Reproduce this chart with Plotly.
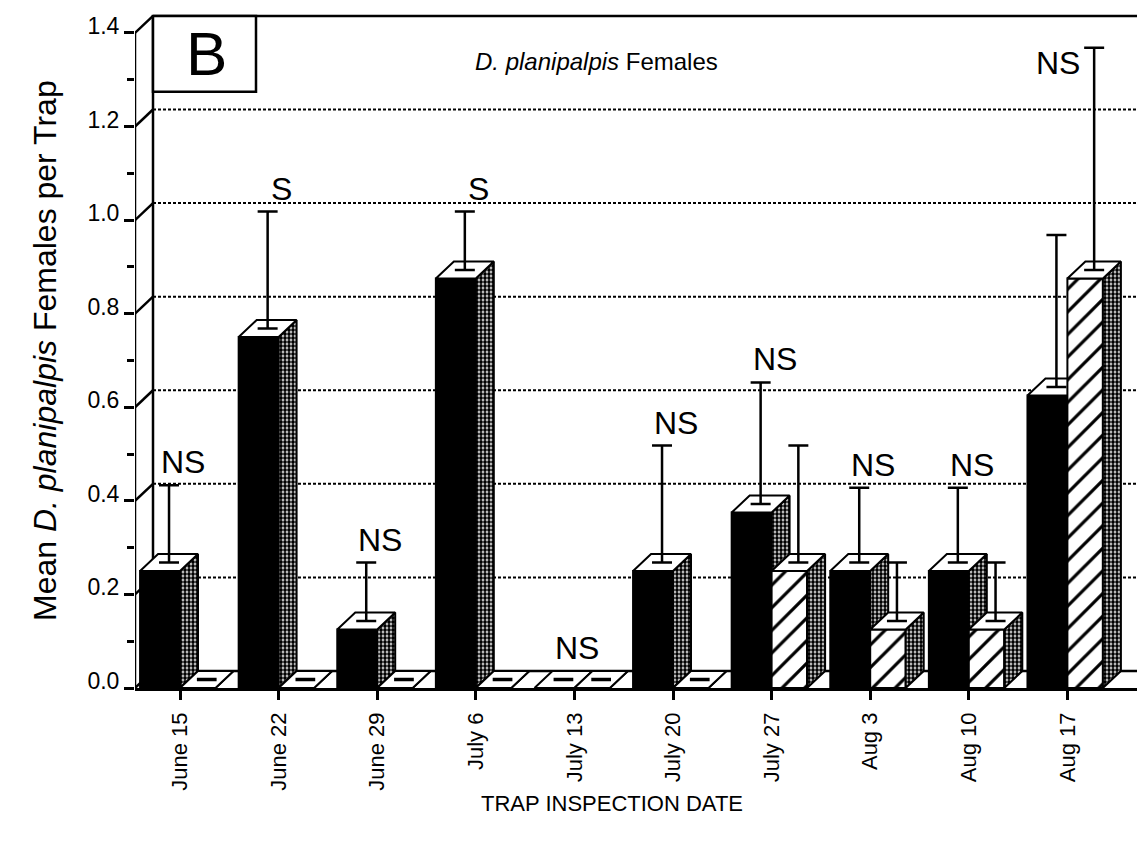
import plotly.graph_objects as go

# ---------------- data ----------------
dates = ["June 15", "June 22", "June 29", "July 6", "July 13",
         "July 20", "July 27", "Aug 3", "Aug 10", "Aug 17"]
black_mean = [0.25, 0.75, 0.125, 0.875, 0.0, 0.25, 0.375, 0.25, 0.25, 0.625]
black_se = [0.165, 0.25, 0.125, 0.125, 0.0, 0.25, 0.26, 0.16, 0.16, 0.325]
hatched_mean = [0.0, 0.0, 0.0, 0.0, 0.0, 0.0, 0.25, 0.125, 0.125, 0.875]
hatched_se = [0.0, 0.0, 0.0, 0.0, 0.0, 0.0, 0.25, 0.125, 0.125, 0.475]
sig_labels = ["NS", "S", "NS", "S", "NS", "NS", "NS", "NS", "NS", "NS"]
y_tick_vals = [0.0, 0.2, 0.4, 0.6, 0.8, 1.0, 1.2, 1.4]
y_tick_text = ["0.0", "0.2", "0.4", "0.6", "0.8", "1.0", "1.2", "1.4"]
y_minor_vals = [0.1, 0.3, 0.5, 0.7, 0.9, 1.1, 1.3]
y_max = 1.4

# ---------------- geometry ----------------
W, H = 1137, 842
ML, MB = 135, 154
PX_CAT = 98.6            # px per category
PX_UNIT = 467.9          # px per y unit
DX = 18 / PX_CAT         # depth offset (x units)
DY = 17 / PX_UNIT        # depth offset (y units)
WB = 0.405               # black bar width
WH = 0.36                # hatched bar width
X0 = (ML - (ML + 45)) / PX_CAT
X1 = X0 + (W - ML) / PX_CAT
Y1 = (H - MB) / PX_UNIT

FONT = "Liberation Sans, Arial, Helvetica, sans-serif"


def poly_xy(polys):
    xs, ys = [], []
    for pts in polys:
        for (x, y) in pts:
            xs.append(x)
            ys.append(y)
        xs.append(pts[0][0])
        ys.append(pts[0][1])
        xs.append(None)
        ys.append(None)
    return xs, ys


def faces(left, width, vals):
    front, side, top = [], [], []
    for i, v in enumerate(vals):
        l = i + left
        r = l + width
        front.append([(l, 0), (r, 0), (r, v), (l, v)])
        side.append([(r, 0), (r + DX, DY), (r + DX, v + DY), (r, v)])
        top.append([(l, v), (r, v), (r + DX, v + DY), (l + DX, v + DY)])
    return front, side, top


def seg_xy(segs):
    xs, ys = [], []
    for (a, b) in segs:
        xs += [a[0], b[0], None]
        ys += [a[1], b[1], None]
    return xs, ys


fig = go.Figure()

# ---------------- back wall / grid ----------------
grid_vals = [v for v in y_tick_vals if 0 < v < y_max]
gx, gy = seg_xy([((X0 + DX, v + DY), (X1, v + DY)) for v in grid_vals])
fig.add_trace(go.Scatter(x=gx, y=gy, mode="lines",
                         line=dict(color="black", width=2, dash="3px,2px"),
                         hoverinfo="skip", showlegend=False))
wall = [((X0 + DX, DY), (X0 + DX, y_max + DY)),
        ((X0 + DX, y_max + DY), (X1, y_max + DY)),
        ((X0 + DX, DY), (X1, DY)),
        ((X0, 0), (X0, y_max))]
wall += [((X0, v), (X0 + DX, v + DY)) for v in y_tick_vals]
wx, wy = seg_xy(wall)
fig.add_trace(go.Scatter(x=wx, y=wy, mode="lines",
                         line=dict(color="black", width=2.5),
                         hoverinfo="skip", showlegend=False))

# ---------------- bars (front / side / top) ----------------
stipple = dict(shape=".", fgcolor="black", bgcolor="white", size=4,
               solidity=0.7, fgopacity=1)
hatch = dict(shape="/", fgcolor="black", bgcolor="white", size=16,
             solidity=0.2, fgopacity=1)
edge = dict(color="black", width=2)

bf, bs, bt = faces(-WB, WB, black_mean)
hf, hs, ht = faces(0, WH, hatched_mean)

for polys, kw in [(bf, dict(fillcolor="black")),
                  (bs, dict(fillcolor="white", fillpattern=stipple)),
                  (bt, dict(fillcolor="white")),
                  (hf, dict(fillcolor="white", fillpattern=hatch)),
                  (hs, dict(fillcolor="white", fillpattern=stipple)),
                  (ht, dict(fillcolor="white"))]:
    px_, py_ = poly_xy(polys)
    fig.add_trace(go.Scatter(x=px_, y=py_, mode="lines", fill="toself",
                             line=edge, hoverinfo="skip", showlegend=False, **kw))

# zero-value marks on flat slabs
dashes = []
for i in range(len(dates)):
    for left, width, v in [(-WB, WB, black_mean[i]), (0, WH, hatched_mean[i])]:
        if v == 0:
            c = i + left + width / 2 + DX / 2
            dashes.append(((c - 0.1, DY / 2), (c + 0.1, DY / 2)))
dx_, dy_ = seg_xy(dashes)
fig.add_trace(go.Scatter(x=dx_, y=dy_, mode="lines",
                         line=dict(color="black", width=3.5),
                         hoverinfo="skip", showlegend=False))

# ---------------- error bars (upper only) ----------------
for left, width, means, ses in [(-WB, WB, black_mean, black_se),
                                (0, WH, hatched_mean, hatched_se)]:
    ex, ey, ee = [], [], []
    for i, (m, s) in enumerate(zip(means, ses)):
        if s > 0:
            ex.append(i + left + width / 2 + DX / 2)
            ey.append(m + DY / 2)
            ee.append(s)
    fig.add_trace(go.Scatter(
        x=ex, y=ey, mode="markers", marker=dict(size=1, color="black"),
        error_y=dict(type="data", array=ee, arrayminus=[0] * len(ee),
                     symmetric=False, color="black", thickness=2.5, width=10),
        hoverinfo="skip", showlegend=False))

# ---------------- significance labels ----------------
annotations = []
for i, lab in enumerate(sig_labels):
    tops = [DY]
    if black_se[i] > 0:
        tops.append(black_mean[i] + DY / 2 + black_se[i])
    if hatched_se[i] > 0:
        tops.append(hatched_mean[i] + DY / 2 + hatched_se[i])
    top = max(tops)
    if top + 0.06 > y_max:
        # no room above: put the label beside the highest stem
        stem_x = i + WH / 2 + DX / 2
        annotations.append(dict(x=stem_x, y=top, xref="x", yref="y", text=lab,
                                showarrow=False, xanchor="right", yanchor="middle",
                                xshift=-12, yshift=-15,
                                font=dict(family=FONT, size=32, color="black")))
    else:
        annotations.append(dict(x=i + 0.03, y=top, xref="x", yref="y", text=lab,
                                showarrow=False, xanchor="center", yanchor="middle",
                                yshift=23,
                                font=dict(family=FONT, size=32, color="black")))

# panel letter
annotations.append(dict(x=0.071, y=0.922, xref="paper", yref="paper", text="B",
                        showarrow=False, xanchor="center", yanchor="middle",
                        font=dict(family=FONT, size=62, color="black")))
# title
annotations.append(dict(x=0.461, y=0.91, xref="paper", yref="paper",
                        text="<i>D. planipalpis</i> Females", showarrow=False,
                        xanchor="center", yanchor="middle",
                        font=dict(family=FONT, size=24, color="black")))
# y title
annotations.append(dict(x=-0.09, y=0.491, xref="paper", yref="paper",
                        text="Mean <i>D. planipalpis</i> Females per Trap",
                        showarrow=False, textangle=-90,
                        xanchor="center", yanchor="middle",
                        font=dict(family=FONT, size=32, color="black")))
# x title
annotations.append(dict(x=0.476, y=-0.168, xref="paper", yref="paper",
                        text="TRAP INSPECTION DATE", showarrow=False,
                        xanchor="center", yanchor="middle",
                        font=dict(family=FONT, size=22, color="black")))

shapes = [dict(type="rect", xref="x", yref="y",
               x0=X0 + DX, x1=(256 - (ML + 45)) / PX_CAT,
               y0=(H - MB - 91.7) / PX_UNIT, y1=y_max + DY,
               line=dict(color="black", width=2.5), fillcolor="white", layer="above")]

fig.update_layout(
    width=W, height=H,
    margin=dict(l=ML, r=0, t=0, b=MB, pad=0),
    paper_bgcolor="white", plot_bgcolor="white",
    showlegend=False,
    annotations=annotations,
    shapes=shapes,
    xaxis=dict(range=[X0, X1], tickmode="array", tickvals=list(range(len(dates))),
               ticktext=dates, tickangle=-90, ticks="outside", ticklen=9,
               tickwidth=2.5, tickcolor="black", showline=True, linecolor="black",
               linewidth=2.5, showgrid=False, zeroline=False,
               ticklabelstandoff=4,
               tickfont=dict(family=FONT, size=22, color="black")),
    yaxis=dict(range=[0, Y1], tickmode="array", tickvals=y_tick_vals,
               ticktext=y_tick_text, ticks="outside", ticklen=10, tickwidth=2.5,
               tickcolor="black", showline=False, showgrid=False, zeroline=False,
               ticklabelshift=-7,
               minor=dict(tickmode="array", tickvals=y_minor_vals, ticks="outside",
                          ticklen=7, tickwidth=2.5, tickcolor="black", showgrid=False),
               tickfont=dict(family=FONT, size=23, color="black")),
)

fig.write_html("out.html")
